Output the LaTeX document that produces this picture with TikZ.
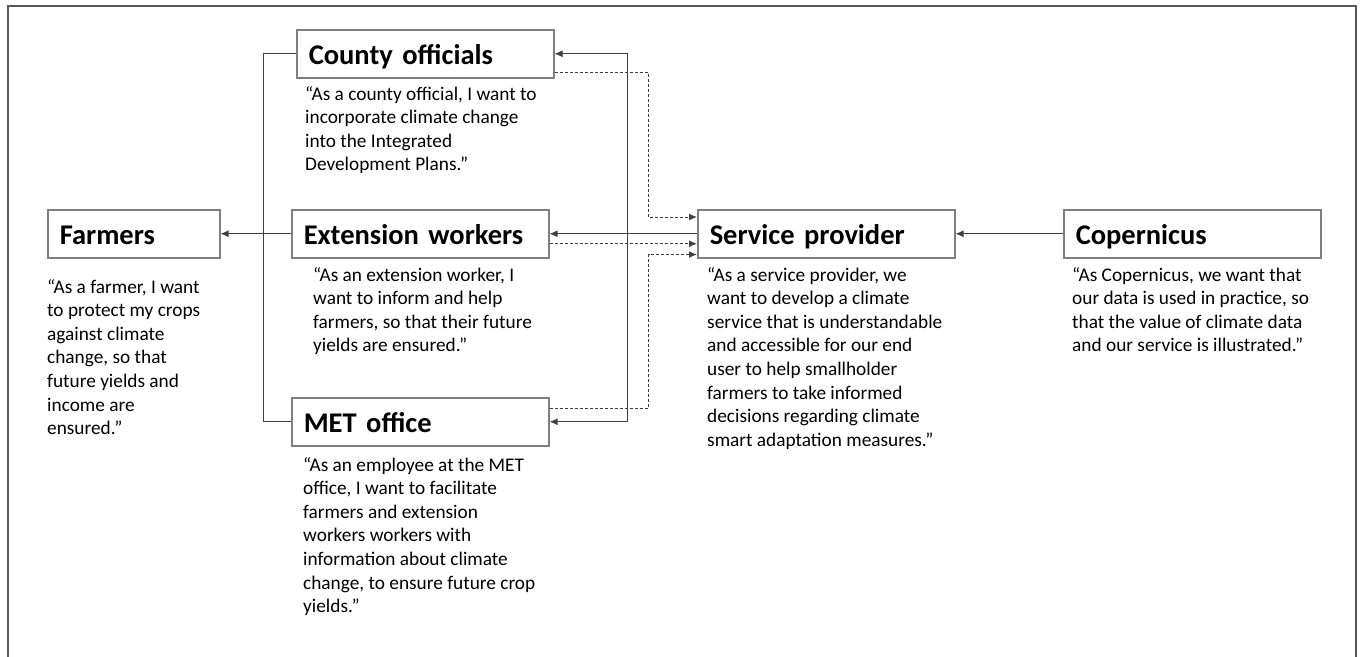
\documentclass[tikz,border=0pt]{standalone}
\usepackage{fontspec}
\setmainfont{Carlito}
\usetikzlibrary{arrows.meta}
\definecolor{boxline}{HTML}{7F7F7F}
\definecolor{wire}{HTML}{404040}
\definecolor{frameline}{HTML}{595959}
\tikzset{
  actor/.style={draw=boxline, line width=1.5pt, minimum height=48pt,
    inner xsep=12pt, inner ysep=0pt, text height=21pt, text depth=0pt,
    align=left, anchor=north west, font=\bfseries\fontsize{28.5}{30}\selectfont},
  wide/.style={text width=233pt},
  quote/.style={anchor=north west, inner sep=0pt, align=left,
    font=\fontsize{19.3}{23.6}\selectfont, text=black},
  wire/.style={draw=wire, line width=1pt},
  arr/.style={wire, -{Latex[length=8pt,width=7pt]}},
  darr/.style={arr, dash pattern=on 3pt off 2pt},
}
\begin{document}
\begin{tikzpicture}[x=1pt, y=-1pt]
\useasboundingbox (0,0) rectangle (1360,656);
% outer frame, open at the bottom
\draw[frameline, line width=2pt] (8,700) -- (8,6) -- (1356,6) -- (1356,700);

% actors
\node[actor, wide] (cty) at (296,29) {County officials};
\node[actor, wide] (ext) at (291,209) {Extension workers};
\node[actor, wide] (met) at (291,397) {MET office};
\node[actor, text width=148pt] (farm) at (47,209) {Farmers};
\node[actor, wide] (sp) at (697,209) {Service provider};
\node[actor, wide] (cop) at (1063,209) {Copernicus};

% user stories
\node[quote] (q-cty) at (305,86) {“As a county official, I want to\\incorporate climate change\\into the Integrated\\Development Plans.”};
\node[quote] (q-ext) at (313,267) {“As an extension worker, I\\want to inform and help\\farmers, so that their future\\yields are ensured.”};
\node[quote] (q-met) at (303,457) {“As an employee at the MET\\office, I want to facilitate\\farmers and extension\\workers workers with\\information about climate\\change, to ensure future crop\\yields.”};
\node[quote] (q-farm) at (47,279) {“As a farmer, I want\\to protect my crops\\against climate\\change, so that\\future yields and\\income are\\ensured.”};
\node[quote] (q-sp) at (707,267) {“As a service provider, we\\want to develop a climate\\service that is understandable\\and accessible for our end\\user to help smallholder\\farmers to take informed\\decisions regarding climate\\smart adaptation measures.”};
\node[quote] (q-cop) at (1072,267) {“As Copernicus, we want that\\our data is used in practice, so\\that the value of climate data\\and our service is illustrated.”};

% left bus: county, extension and MET feed the farmers
\draw[wire] (cty.west) -- ++(-33,0) coordinate (lb) |- (met.west);
\draw[arr] (ext.west) -- (farm.east);

% right bus: the service provider feeds the three intermediaries
\draw[arr] (sp.west) -- (ext.east);
\coordinate (rb) at (627,233);
\draw[arr] (rb) |- (cty.east);
\draw[arr] (rb) |- (met.east);

% dashed feedback to the service provider
\draw[darr] ([yshift=6pt]cty.south east) -- ++(94,0) |- ([yshift=-8pt]sp.north west);
\draw[darr] ([yshift=-10pt]ext.east) -- ([yshift=-10pt]sp.west);
\draw[darr] ([yshift=-11pt]met.north east) -- ++(99,0) |- ([yshift=4pt]sp.south west);

% Copernicus supplies the service provider
\draw[arr] (cop.west) -- (sp.east);
\end{tikzpicture}
\end{document}
